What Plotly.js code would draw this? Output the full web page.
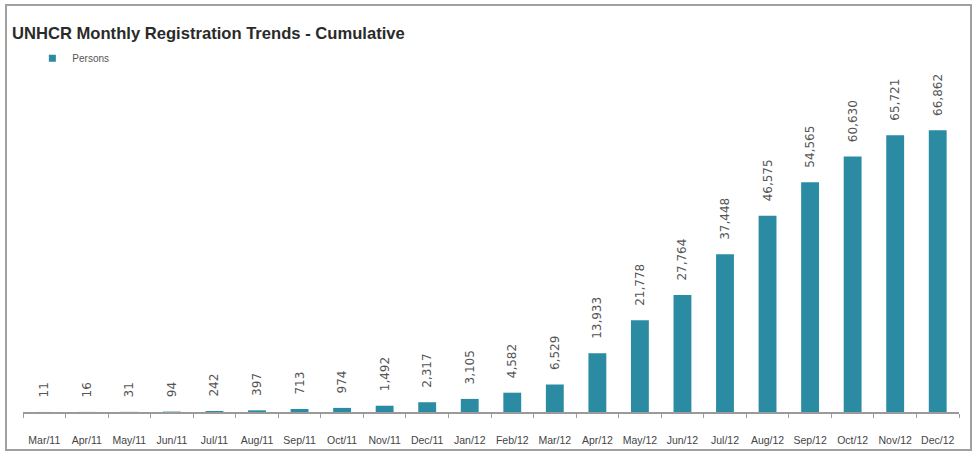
<!DOCTYPE html>
<html>
<head>
<meta charset="utf-8">
<script src="https://cdn.plot.ly/plotly-3.0.1.min.js"></script>
<style>
html,body{margin:0;padding:0;background:#fff;}
#chart{width:974px;height:453px;}
</style>
</head>
<body>
<div id="chart"></div>
<script>
const months = ["Mar/11","Apr/11","May/11","Jun/11","Jul/11","Aug/11","Sep/11","Oct/11","Nov/11","Dec/11","Jan/12","Feb/12","Mar/12","Apr/12","May/12","Jun/12","Jul/12","Aug/12","Sep/12","Oct/12","Nov/12","Dec/12"];
const persons = [11,16,31,94,242,397,713,974,1492,2317,3105,4582,6529,13933,21778,27764,37448,46575,54565,60630,65721,66862];
const seriesName = "Persons";
const chartTitle = "UNHCR Monthly Registration Trends - Cumulative";
const barColor = '#2B8BA2';

const bars = {
  type: 'bar',
  x: months,
  y: persons,
  name: seriesName,
  showlegend: false,
  marker: {color: barColor},
  texttemplate: '\u00a0\u00a0\u00a0%{y:,}',
  textposition: 'outside',
  textangle: -90,
  constraintext: 'none',
  cliponaxis: false,
  textfont: {family: 'DejaVu Sans, sans-serif', size: 12, color: '#555'},
  hoverinfo: 'x+y'
};

// legend entry for the series (small square key like the original)
const legendKey = {
  type: 'scatter',
  mode: 'markers',
  x: [null], y: [null],
  name: seriesName,
  marker: {symbol: 'square', size: 7, color: barColor},
  showlegend: true,
  hoverinfo: 'skip'
};

const layout = {
  width: 974,
  height: 453,
  margin: {l: 23, r: 15, t: 75, b: 41},
  paper_bgcolor: '#fff',
  plot_bgcolor: '#fff',
  bargap: 0.58,
  showlegend: true,
  legend: {
    x: 0.01, y: 1.05, xanchor: 'left', yanchor: 'middle',
    font: {family: 'Liberation Sans, Arial, sans-serif', size: 10, color: '#555'},
    bgcolor: 'rgba(0,0,0,0)', itemwidth: 30, tracegroupgap: 0
  },
  title: {
    text: '<b>' + chartTitle + '</b>',
    x: 12/974, xref: 'container', xanchor: 'left',
    y: 1 - 33/453, yref: 'container', yanchor: 'middle',
    font: {family: 'Liberation Sans, Arial, sans-serif', size: 16.6, color: '#2a2a2a'}
  },
  xaxis: {
    type: 'category',
    showline: true, linecolor: '#9a9a9a', linewidth: 2,
    ticks: 'outside', tickson: 'boundaries', ticklen: 4, tickcolor: '#9a9a9a',
    tickangle: 0,
    ticklabelstandoff: 17,
    tickfont: {family: 'Liberation Sans, Arial, sans-serif', size: 10.5, color: '#444'},
    showgrid: false, zeroline: false, fixedrange: true
  },
  yaxis: {
    range: [0, 80000],
    showticklabels: false, showgrid: false, zeroline: false, showline: false,
    ticks: '', fixedrange: true
  },
  shapes: [{
    type: 'rect', xref: 'paper', yref: 'paper',
    x0: (6-23)/936, x1: (971-23)/936,
    y0: (412-450)/337, y1: (412-5)/337,
    line: {color: '#a0a0a0', width: 2},
    fillcolor: 'rgba(0,0,0,0)', layer: 'below'
  }]
};

Plotly.newPlot('chart', [bars, legendKey], layout, {displayModeBar: false, staticPlot: true});
</script>
</body>
</html>
